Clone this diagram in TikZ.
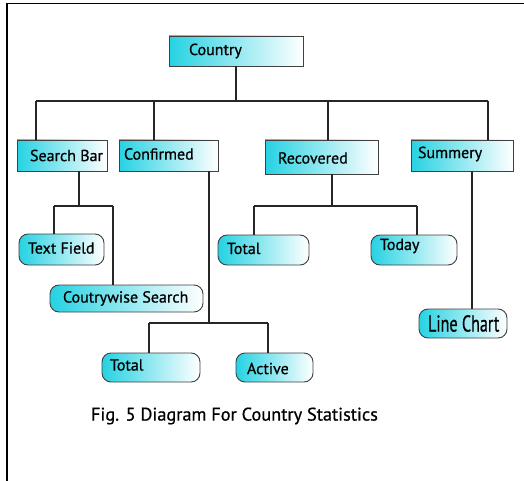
\documentclass[tikz,border=0pt]{standalone}
\usepackage{fontspec}
\setmainfont[BoldFont={PT Sans}, BoldFeatures={FakeBold=0.7}]{PT Sans}
\begin{document}
\begin{tikzpicture}[x=1pt,y=-1pt,
  every node/.style={inner sep=0pt, outer sep=0pt},
  conn/.style={draw=black!85, line width=1.1pt},
  rbox/.style={draw=black!75, line width=0.9pt, left color=cyanA, right color=white, shading angle=90},
  rrbox/.style={rbox, rounded corners=9pt},
  lbl/.style={anchor=west, font=\fontsize{16}{18}\selectfont\bfseries, text=black}
]
\definecolor{cyanA}{RGB}{38,210,226}
\useasboundingbox (0,0) rectangle (524,481);
\fill[white] (0,0) rectangle (524,481);
% frame
\draw[line width=1.3pt] (7,481) -- (7,3.5) -- (524,3.5);

% level 0
\node[rbox, minimum width=134pt, minimum height=30pt] (country) at (236,51) {};
\node[lbl] (countryT) at ([xshift=20pt]country.west) {Country};

% level 1
\node[rbox, minimum width=90pt, minimum height=31pt] (sbar) at (62,155.5) {};
\node[lbl] (sbarT) at ([xshift=13pt]sbar.west) {Search Bar};
\node[rbox, minimum width=99pt, minimum height=31pt] (conf) at (168.5,155.5) {};
\node[lbl] (confT) at ([xshift=5pt,yshift=1.5pt]conf.west) {Confirmed};
\node[rbox, minimum width=113pt, minimum height=34pt] (recov) at (321.5,157) {};
\node[lbl] (recovT) at ([xshift=13pt,yshift=-1pt]recov.west) {Recovered};
\node[rbox, minimum width=102pt, minimum height=31pt] (summ) at (462,155.5) {};
\node[lbl] (summT) at ([xshift=7pt,yshift=1.5pt]summ.west) {Summery};

% level 2
\node[rrbox, minimum width=85pt, minimum height=31pt] (tf) at (61.5,249.5) {};
\node[lbl] (tfT) at ([xshift=9pt,yshift=1.5pt]tf.west) {Text Field};
\node[rrbox, minimum width=153pt, minimum height=27pt] (cw) at (126.5,298.5) {};
\node[lbl] (cwT) at ([xshift=13pt]cw.west) {Coutrywise Search};
\node[rrbox, minimum width=91pt, minimum height=30pt] (rtot) at (263.5,250) {};
\node[lbl] (rtotT) at ([xshift=9pt,yshift=1.5pt]rtot.west) {Total};
\node[rrbox, minimum width=86pt, minimum height=30pt] (today) at (414,250) {};
\node[lbl] (todayT) at ([xshift=9pt,yshift=4pt]today.west) {Today};
\node[rrbox, minimum width=88pt, minimum height=29pt] (lc) at (463,323.5) {};
\node[anchor=west, text=black] (lcT) at ([xshift=9pt]lc.west) {\fontsize{23}{25}\selectfont\bfseries\scalebox{0.7}[1]{Line Chart}};
\node[rrbox, minimum width=98pt, minimum height=29pt] (ctot) at (151,367.5) {};
\node[lbl] (ctotT) at ([xshift=8pt,yshift=2.5pt]ctot.west) {Total};
\node[rrbox, minimum width=77pt, minimum height=29pt] (act) at (274.5,367.5) {};
\node[lbl] (actT) at ([xshift=11pt,yshift=-1pt]act.west) {Active};

% caption
\node[anchor=west, font=\fontsize{18.3}{21}\selectfont\bfseries, text=black] (cap) at (91,416) {Fig. 5 Diagram For Country Statistics};

% connectors: top level
\coordinate (d1) at (36,101);
\coordinate (d2) at (154,101);
\coordinate (d3) at (328,101);
\coordinate (d4) at (488,101);
\draw[conn] (d1) -- (d4);
\draw[conn] (country.south) -- (country.south |- d1);
\draw[conn] (d1) -- (d1 |- sbar.north);
\draw[conn] (d2) -- (d2 |- conf.north);
\draw[conn] (d3) -- (d3 |- recov.north);
\draw[conn] (d4) -- (d4 |- summ.north);

% search bar subtree
\coordinate (sj) at (79,206);
\coordinate (s1) at (54,206);
\coordinate (s2) at (113,206);
\draw[conn] (sj |- sbar.south) -- (sj);
\draw[conn] (s1) -- (s2);
\draw[conn] (s1) -- (s1 |- tf.north);
\draw[conn] (s2) -- (s2 |- cw.north);

% confirmed subtree
\coordinate (cj) at (209,323);
\coordinate (c1) at (149,323);
\coordinate (c2) at (268,323);
\draw[conn] (cj |- conf.south) -- (cj);
\draw[conn] (c1) -- (c2);
\draw[conn] (c1) -- (c1 |- ctot.north);
\draw[conn] (c2) -- (c2 |- act.north);

% recovered subtree
\coordinate (rj) at (332,206);
\coordinate (r1) at (254,206);
\coordinate (r2) at (417,206);
\draw[conn] (rj |- recov.south) -- (rj);
\draw[conn] (r1) -- (r2);
\draw[conn] (r1) -- (r1 |- rtot.north);
\draw[conn] (r2) -- (r2 |- today.north);

% summery subtree
\coordinate (mj) at (472,200);
\draw[conn] (mj |- summ.south) -- (mj |- lc.north);
\end{tikzpicture}
\end{document}
